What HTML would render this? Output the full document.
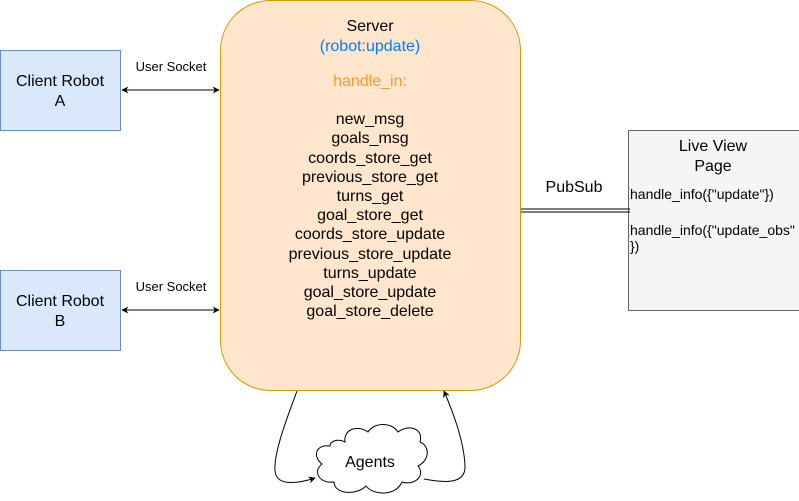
<!DOCTYPE html>
<html><head><meta charset="utf-8"><style>body{margin:0;background:#fff}svg{display:block}text{font-family:"Liberation Sans",Arial,sans-serif}</style></head><body>
<svg width="799" height="501" viewBox="0 0 799 501" xmlns="http://www.w3.org/2000/svg">
<defs><marker id="a" viewBox="0 0 10 10" refX="9" refY="5" markerWidth="7" markerHeight="7" orient="auto-start-reverse"><path d="M0,0 L10,5 L0,10 L3,5 Z" fill="#000"/></marker></defs>
<rect x="220.5" y="0.5" width="300" height="390" rx="50" fill="#ffe6cc" stroke="#d79b00"/>
<rect x="0.5" y="50.5" width="120" height="80" fill="#dae8fc" stroke="#6c8ebf"/>
<rect x="0.5" y="270.5" width="120" height="80" fill="#dae8fc" stroke="#6c8ebf"/>
<rect x="628.5" y="130.5" width="172" height="180" fill="#f5f5f5" stroke="#666"/>
<g font-size="16" text-anchor="middle" fill="#000">
<text x="60" y="86">Client Robot</text><text x="60" y="106">A</text>
<text x="60" y="306">Client Robot</text><text x="60" y="326">B</text>
<text x="713" y="151">Live View</text><text x="713" y="171">Page</text>
</g>
<g font-size="13" text-anchor="middle"><text x="171" y="71">User Socket</text><text x="171" y="291">User Socket</text></g>
<line x1="122" y1="90" x2="219" y2="90" stroke="#000" marker-start="url(#a)" marker-end="url(#a)"/>
<line x1="122" y1="310" x2="219" y2="310" stroke="#000" marker-start="url(#a)" marker-end="url(#a)"/>
<text x="574" y="192" font-size="16" text-anchor="middle">PubSub</text>
<line x1="521" y1="209" x2="630" y2="209" stroke="#000"/>
<line x1="521" y1="212" x2="630" y2="212" stroke="#000"/>
<g font-size="14"><text x="630" y="199">handle_info({"update"})</text><text x="630" y="235">handle_info({"update_obs"</text><text x="630" y="251">})</text></g>
<g font-size="16" text-anchor="middle" fill="#000">
<text x="370" y="31">Server</text>
<text x="370" y="51" fill="#007fff">(robot:update)</text>
<text x="370" y="86" fill="#ff9933">handle_in:</text>
<text x="370" y="124">new_msg</text><text x="370" y="143">goals_msg</text><text x="370" y="163">coords_store_get</text><text x="370" y="182">previous_store_get</text><text x="370" y="201">turns_get</text><text x="370" y="220">goal_store_get</text><text x="370" y="239">coords_store_update</text><text x="370" y="259">previous_store_update</text><text x="370" y="278">turns_update</text><text x="370" y="297">goal_store_update</text><text x="370" y="316">goal_store_delete</text>
</g>
<g transform="translate(0,14)">
<path d="M345,428 C343,416 357,410 368,418 C374,408 392,408 398,418 C408,410 424,414 420,428 C430,432 430,446 418,452 C426,462 414,472 402,468 C396,482 374,482 366,472 C356,482 334,480 334,468 C320,470 312,458 322,450 C312,442 316,430 330,432 C330,428 336,424 345,428 Z" fill="#fff" stroke="#000"/>
</g>
<text x="370" y="467" font-size="16" text-anchor="middle">Agents</text>
<path d="M297,391 C290,410 270,460 276,475 C280,486 300,483 315,478" fill="none" stroke="#000" marker-end="url(#a)"/>
<path d="M424,479 C440,482 466,486 465,466 C464,440 452,410 444,391" fill="none" stroke="#000" marker-end="url(#a)"/>
</svg>
</body></html>
